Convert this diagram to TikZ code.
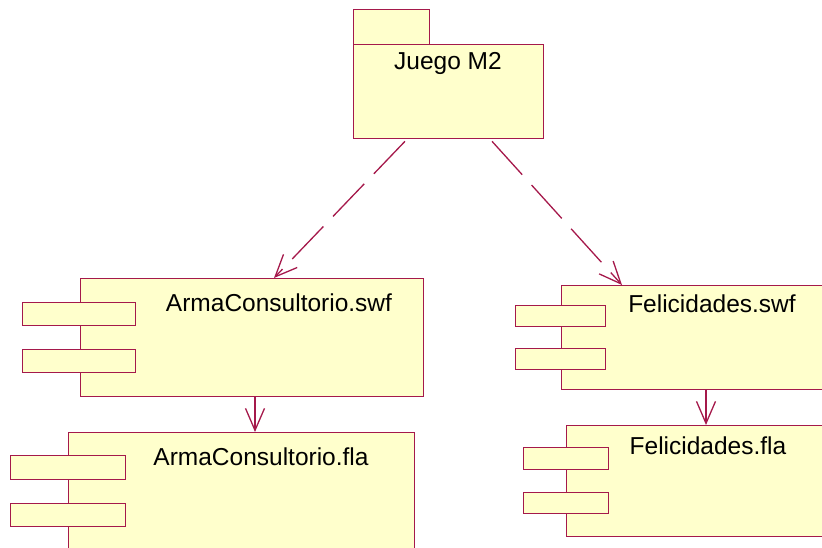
\documentclass[tikz,border=0pt]{standalone}
\usepackage{fontspec}
\setmainfont{Liberation Sans}
\usetikzlibrary{arrows.meta,calc}
\definecolor{umlred}{RGB}{165,25,75}
\definecolor{umlfill}{RGB}{255,255,204}
\tikzset{
  box/.style={draw=umlred, fill=umlfill, line width=1.3pt, rectangle, inner sep=0pt, anchor=north west},
  lbl/.style={font=\fontsize{24.5}{28}\selectfont, anchor=base, inner sep=0pt},
  dep/.style={draw=umlred, line width=1.3pt, dash pattern=on 45pt off 14pt, -{Straight Barb[length=22pt,width=19pt]}},
  solidarrow/.style={draw=umlred, line width=1.3pt, -{Straight Barb[length=22pt,width=19pt]}}
}
\begin{document}
\begin{tikzpicture}[x=1pt,y=-1pt]
\useasboundingbox (0,0) rectangle (822,548);
\clip (0,0) rectangle (822,548);
% package
\node[box, minimum width=76pt, minimum height=35pt] (tab) at (353,9) {};
\node[box, minimum width=190pt, minimum height=94pt] (pkg) at (353,44) {};
\node[lbl] (pkgl) at (448,70) {Juego M2};
% ArmaConsultorio.swf
\node[box, minimum width=343pt, minimum height=118pt] (swf1) at (80,278) {};
\node[box, minimum width=113pt, minimum height=23pt] (swf1a) at (22,302) {};
\node[box, minimum width=113pt, minimum height=23pt] (swf1b) at (22,349) {};
\node[lbl] (swf1l) at (279,311.5) {ArmaConsultorio.swf};
% ArmaConsultorio.fla
\node[box, minimum width=346pt, minimum height=140pt] (fla1) at (68,432) {};
\node[box, minimum width=115pt, minimum height=24pt] (fla1a) at (10,455) {};
\node[box, minimum width=115pt, minimum height=23pt] (fla1b) at (10,503) {};
\node[lbl] (fla1l) at (261,465) {ArmaConsultorio.fla};
% Felicidades.swf
\node[box, minimum width=270pt, minimum height=104pt] (swf2) at (561,285) {};
\node[box, minimum width=90pt, minimum height=21pt] (swf2a) at (515,305) {};
\node[box, minimum width=90pt, minimum height=21pt] (swf2b) at (515,348) {};
\node[lbl] (swf2l) at (712,312.5) {Felicidades.swf};
% Felicidades.fla
\node[box, minimum width=270pt, minimum height=111pt] (fla2) at (566,425) {};
\node[box, minimum width=85pt, minimum height=22pt] (fla2a) at (523,447) {};
\node[box, minimum width=85pt, minimum height=21pt] (fla2b) at (523,492) {};
\node[lbl] (fla2l) at (708,454) {Felicidades.fla};
% connectors
\draw[dep] ([xshift=52pt,yshift=-2pt]pkg.south west) -- ([xshift=194pt]swf1.north west);
\draw[dep] ([xshift=139pt,yshift=-2pt]pkg.south west) -- ([xshift=61pt]swf2.north west);
\draw[solidarrow] ([xshift=175pt]swf1.south west) -- ([xshift=187pt]fla1.north west);
\draw[solidarrow] ([xshift=145pt]swf2.south west) -- ([xshift=140pt]fla2.north west);
\end{tikzpicture}
\end{document}
